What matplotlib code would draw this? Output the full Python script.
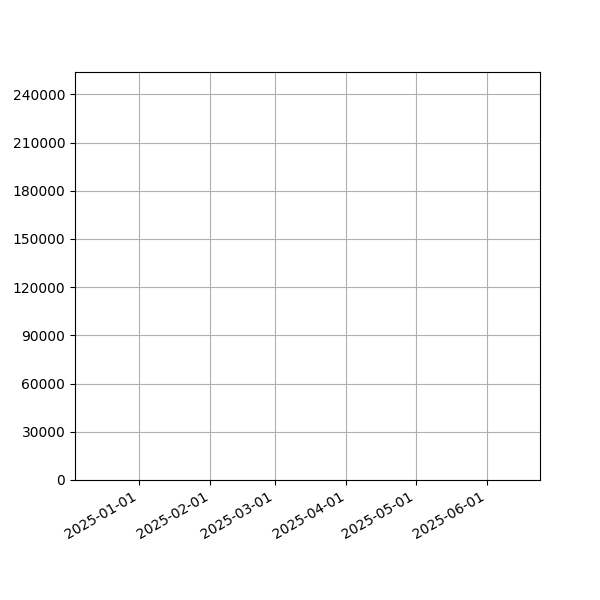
import matplotlib
matplotlib.use("Agg")
import matplotlib.pyplot as plt
import matplotlib.dates as mdates
import matplotlib.ticker as mticker
import numpy as np

# the reference shows an empty panel: only the axis ranges are known
x_range = np.array(["2024-12-04 06:00", "2025-06-24"], dtype="datetime64[m]")
y_range = [0, 253900]
y_step = 30000

fig, ax = plt.subplots(figsize=(6, 6), dpi=100)

ax.set_xlim(x_range[0], x_range[1])
ax.set_ylim(*y_range)

ax.xaxis.set_major_locator(mdates.MonthLocator())
ax.xaxis.set_major_formatter(mdates.DateFormatter("%Y-%m-%d"))
ax.yaxis.set_major_locator(mticker.MultipleLocator(y_step))

ax.grid(True)
fig.autofmt_xdate()

fig.savefig("out.png", dpi=100)
